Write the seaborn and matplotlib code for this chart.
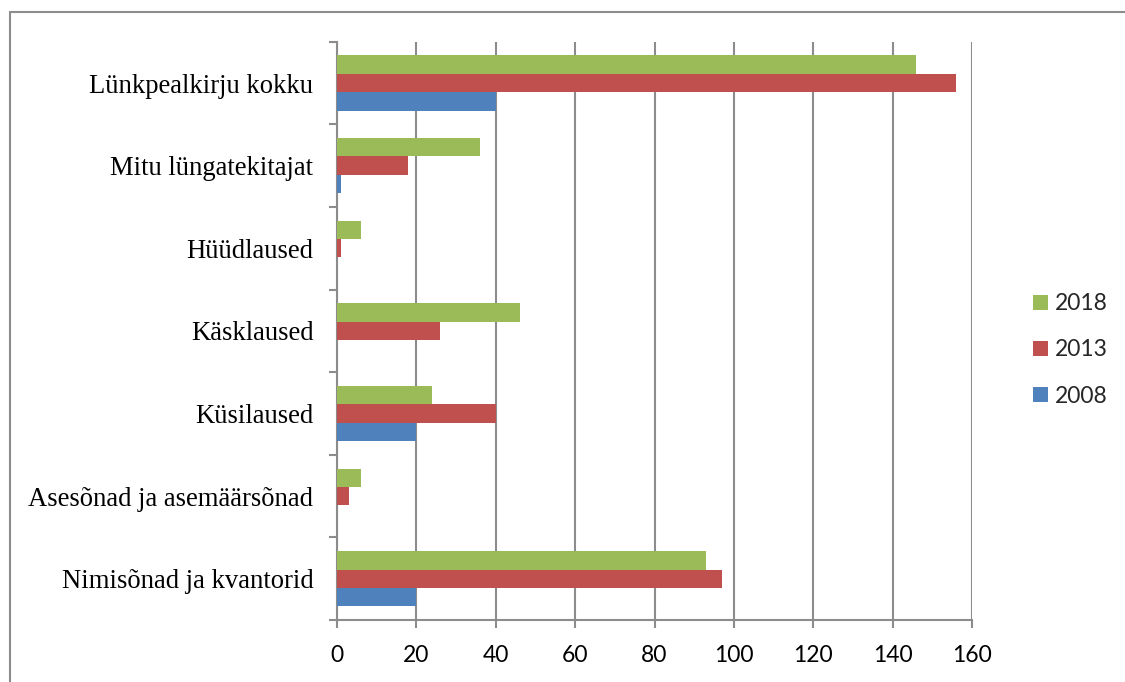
import matplotlib
matplotlib.use("Agg")
import matplotlib.pyplot as plt
from matplotlib.patches import Patch
from matplotlib.lines import Line2D
import seaborn as sns
import pandas as pd

categories = ["Lünkpealkirju kokku", "Mitu lüngatekitajat", "Hüüdlaused",
              "Käsklaused", "Küsilaused", "Asesõnad ja asemäärsõnad",
              "Nimisõnad ja kvantorid"]
years = ["2018", "2013", "2008"]
v2018 = [146, 36, 6, 46, 24, 6, 93]
v2013 = [156, 18, 1, 26, 40, 3, 97]
v2008 = [40, 1, 0, 0, 20, 0, 20]
x_ticks = [0, 20, 40, 60, 80, 100, 120, 140, 160]
colors = {"2018": "#9BBB59", "2013": "#C0504D", "2008": "#4F81BD"}

rows = []
for yr, vals in zip(years, [v2018, v2013, v2008]):
    for c, v in zip(categories, vals):
        rows.append({"cat": c, "year": yr, "value": v})
df = pd.DataFrame(rows)

sns.set_theme(style="white")
grid_col = "#8C8C8C"

fig = plt.figure(figsize=(11.25, 6.82), dpi=100)
ax = fig.add_axes([337/1125, 1-620/682, (972-337)/1125, (620-41.7)/682])

sns.barplot(data=df, y="cat", x="value", hue="year", order=categories,
            hue_order=years, palette=colors, orient="h", width=0.667,
            gap=0, linewidth=0, saturation=1, legend=False, ax=ax, zorder=3)

ax.set_xlim(0, 160)
ax.set_ylim(6.5, -0.5)
ax.set_xticks(x_ticks)
ax.set_xticklabels([str(t) for t in x_ticks], fontfamily="Lato", fontsize=16.5)
ax.set_yticks(range(len(categories)))
ax.set_yticklabels(categories, fontfamily="Liberation Serif", fontsize=19.2)
ax.set_yticks([i - 0.5 for i in range(len(categories) + 1)], minor=True)
ax.tick_params(axis="y", which="major", length=0, pad=17, colors="black")
ax.tick_params(axis="y", which="minor", length=6, width=1.5, color=grid_col, left=True)
ax.tick_params(axis="x", which="major", length=6, width=1.5, color=grid_col,
               bottom=True, pad=12, colors="black")
ax.tick_params(axis="x", colors=grid_col, labelcolor="black")
ax.xaxis.grid(True, color=grid_col, linewidth=1.5, zorder=0)
ax.set_axisbelow(True)
ax.set_xlabel("")
ax.set_ylabel("")
for side in ["top", "right"]:
    ax.spines[side].set_visible(False)
for side in ["left", "bottom"]:
    ax.spines[side].set_color(grid_col)
    ax.spines[side].set_linewidth(1.5)

handles = [Patch(facecolor=colors[y], edgecolor="none", label=y) for y in years]
leg = fig.legend(handles=handles, loc="center left",
                 bbox_to_anchor=(1033/1125, 1-350/682), frameon=False,
                 prop={"family": "Lato", "size": 16.5}, handlelength=0.65,
                 handleheight=0.65, handletextpad=0.3, labelspacing=1.1,
                 borderpad=0, borderaxespad=0)

# chart area border (left and top edges visible)
fig.add_artist(Line2D([10/1125, 10/1125], [0, 1-12/682], transform=fig.transFigure,
                      color="#8C8C8C", linewidth=1.5))
fig.add_artist(Line2D([10/1125, 1], [1-12/682, 1-12/682], transform=fig.transFigure,
                      color="#8C8C8C", linewidth=1.5))

fig.savefig("out.png", dpi=100)
